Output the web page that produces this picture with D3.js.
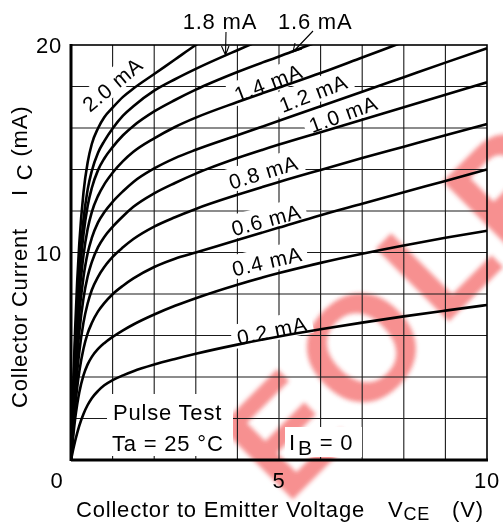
<!DOCTYPE html>
<html><head><meta charset="utf-8">
<script src="https://cdn.jsdelivr.net/npm/d3@7"></script>
<style>html,body{margin:0;padding:0;background:#fff;}svg{display:block;}</style>
</head><body>
<svg id="c" width="503" height="522"></svg>
<script>
// ---- data ----
const vce  = [0,0.05,0.1,0.15,0.2,0.3,0.4,0.5,0.65,0.8,1,1.25,1.5,2,2.5,3,4,5,6,7,8,9,10];
const ib02 = [0,0.48,0.92,1.31,1.66,2.22,2.65,2.98,3.33,3.60,3.85,4.08,4.28,4.60,4.87,5.12,5.56,5.95,6.30,6.62,6.92,7.20,7.47];
const ib04 = [0,1.08,1.99,2.70,3.27,4.08,4.61,4.97,5.35,5.63,5.93,6.25,6.53,7.01,7.43,7.80,8.45,9.01,9.50,9.94,10.34,10.71,11.05];
const ib06 = [0,1.37,2.56,3.51,4.27,5.36,6.10,6.60,7.16,7.56,7.99,8.40,8.75,9.30,9.70,10.0,10.6,11.2,11.8,12.35,12.9,13.45,14.0];
const ib08 = [0,1.64,3.09,4.27,5.23,6.62,7.54,8.19,8.83,9.30,9.79,10.25,10.65,11.25,11.7,12.1,12.78,13.4,13.98,14.55,15.1,15.65,16.19];
const ib10 = [0,1.95,3.65,5.06,6.18,7.79,8.84,9.54,10.26,10.75,11.24,11.75,12.2,12.85,13.35,13.8,14.55,15.2,15.8,16.4,17.0,17.6,18.2];
const ib12 = [0,2.26,4.24,5.81,7.07,8.82,9.96,10.70,11.45,11.94,12.44,12.95,13.4,14.05,14.55,14.95,15.65,16.35,17.05,17.75,18.45,19.15,19.84];
const ib14 = [0,2.55,4.75,6.51,7.91,9.86,11.13,11.95,12.73,13.28,13.84,14.4,14.85,15.5,16.05,16.5,17.25,17.95,18.65,19.4,20.15,20.9,21.6];
const ib16 = [0,2.80,5.24,7.17,8.72,10.86,12.24,13.11,13.97,14.53,15.08,15.65,16.1,16.8,17.35,17.85,18.7,19.45,20.2,20.9,21.6,22.3,23.0];
const ib18 = [0,3.00,5.60,7.68,9.31,11.59,13.03,13.93,14.81,15.37,15.98,16.6,17.05,17.8,18.35,18.85,19.75,20.6,21.4,22.2,23.0,23.8,24.6];
const ib20 = [0,3.40,6.33,8.66,10.45,12.89,14.34,15.23,15.99,16.52,16.98,17.5,17.9,18.6,19.3,20.0,21.2,22.3,23.3,24.3,25.3,26.3,27.3];
const seriesNames = ["0.2 mA","0.4 mA","0.6 mA","0.8 mA","1.0 mA","1.2 mA","1.4 mA","1.6 mA","1.8 mA","2.0 mA"];
const seriesValues = [ib02,ib04,ib06,ib08,ib10,ib12,ib14,ib16,ib18,ib20];
const xTicks = [0,5,10];
const yTicks = [10,20];
const stampLetters = ["E","O","L","P"];

// ---- layout ----
const L=71,R=487,T=45,B=460;
const x = d3.scaleLinear().domain([0,10]).range([L,R]);
const y = d3.scaleLinear().domain([0,20]).range([B,T]);
const svg = d3.select("#c");
const FONT = "'Liberation Sans', Arial, Helvetica, sans-serif";
const LS = 0.8;

const defs = svg.append("defs");
defs.append("filter").attr("id","blur").append("feGaussianBlur").attr("stdDeviation",2);
defs.append("clipPath").attr("id","plot").append("rect").attr("x",L).attr("y",T).attr("width",R-L).attr("height",B-T);

// watermark stamp (letters along a 45° diagonal)
const stampPos = [[283,433],[360,346],[436,258],[506,188]];
const wm = svg.append("g").attr("opacity",0.55).attr("filter","url(#blur)");
stampLetters.forEach((ch,k)=>{
  wm.append("text").attr("transform",`translate(${stampPos[k][0]},${stampPos[k][1]}) rotate(-45)`)
    .attr("text-anchor","middle").attr("y",54)
    .attr("font-family",FONT).attr("font-weight","bold").attr("font-size",150)
    .attr("fill","#f03434").text(ch);
});

// grid
const grid = svg.append("g").attr("stroke","#1a1a1a").attr("stroke-width",1.1);
d3.range(1,10).forEach(v=>grid.append("line").attr("x1",x(v)).attr("x2",x(v)).attr("y1",T).attr("y2",B));
d3.range(2,20,2).forEach(v=>grid.append("line").attr("y1",y(v)).attr("y2",y(v)).attr("x1",L).attr("x2",R));

// curve labels with white boxes
const curveLabels = [
  {t:"2.0 mA", v:0.99, i:18.12, a:-40},
  {t:"1.4 mA", v:4.74, i:18.2, a:-21},
  {t:"1.2 mA", v:5.82, i:17.7, a:-21},
  {t:"1.0 mA", v:6.54, i:16.7, a:-20},
  {t:"0.8 mA", v:4.62, i:13.9, a:-17},
  {t:"0.6 mA", v:4.69, i:11.6, a:-15},
  {t:"0.4 mA", v:4.71, i:9.6, a:-13},
  {t:"0.2 mA", v:4.83, i:6.27, a:-12}
];
const lg = svg.append("g");
curveLabels.forEach(d=>{
  const g = lg.append("g").attr("transform",`translate(${x(d.v)},${y(d.i)}) rotate(${d.a})`);
  g.append("rect").attr("x",-41).attr("y",-13).attr("width",82).attr("height",24).attr("fill","#fff");
  g.append("text").attr("text-anchor","middle").attr("y",8)
    .attr("font-family",FONT).attr("font-size",21).attr("letter-spacing",LS).text(d.t);
});

// boxes for notes
svg.append("rect").attr("x",107).attr("y",394).attr("width",126).attr("height",62).attr("fill","#fff");
svg.append("rect").attr("x",285).attr("y",427).attr("width",77).attr("height",30).attr("fill","#fff");

// curves
const line = d3.line().x(d=>x(d[0])).y(d=>y(d[1])).curve(d3.curveMonotoneX);
svg.append("g").attr("clip-path","url(#plot)").selectAll("path").data(seriesValues).join("path")
  .attr("d",s=>line(vce.map((v,k)=>[v,s[k]])))
  .attr("fill","none").attr("stroke","#000").attr("stroke-width",2.6).attr("stroke-linejoin","round");

// frame
svg.append("rect").attr("x",L).attr("y",T).attr("width",R-L).attr("height",B-T).attr("fill","none").attr("stroke","#000").attr("stroke-width",1.6);
svg.append("line").attr("x1",L).attr("x2",R+1).attr("y1",B).attr("y2",B).attr("stroke","#000").attr("stroke-width",3);
svg.append("line").attr("x1",L).attr("x2",L).attr("y1",T-1).attr("y2",B+1).attr("stroke","#000").attr("stroke-width",3);

// ticks
const tx = svg.append("g").attr("font-family",FONT).attr("font-size",22).attr("letter-spacing",LS);
xTicks.forEach(v=>{
  tx.append("text").attr("x", v===0 ? x(v)-14 : x(v)).attr("y",488).attr("text-anchor","middle").text(v);
});
yTicks.forEach(v=>{
  tx.append("text").attr("x",62).attr("y",y(v)+8).attr("text-anchor","end").text(v);
});

// top labels with arrows
const topLabels = [{t:"1.8 mA", v:3.58}, {t:"1.6 mA", v:5.87}];
topLabels.forEach(d=>tx.append("text").attr("x",x(d.v)).attr("y",29).attr("text-anchor","middle").text(d.t));
const ar = svg.append("g").attr("stroke","#000").attr("stroke-width",1.1).attr("fill","none");
ar.append("path").attr("d","M226,32 L225.5,55 M221.5,46 L225.5,55 L229,46");
ar.append("path").attr("d","M313,31 L293,52 M295,43 L293,52 L302,49");

// notes
tx.append("text").attr("x",113).attr("y",420).text("Pulse Test");
tx.append("text").attr("x",112).attr("y",451).text("Ta = 25 °C");
const ibt = tx.append("text").attr("x",289).attr("y",450);
ibt.append("tspan").text("I");
ibt.append("tspan").attr("dy",5).attr("dx",2).attr("font-size",21).text("B");
ibt.append("tspan").attr("dy",-5).text(" = 0");

// axis titles
const xt = tx.append("text").attr("x",76).attr("y",517);
xt.append("tspan").text("Collector to Emitter Voltage");
xt.append("tspan").attr("dx",23).text("V");
xt.append("tspan").attr("dy",3).attr("font-size",18).text("CE");
xt.append("tspan").attr("dy",-3).attr("dx",22).text("(V)");

const yt = tx.append("text").attr("transform","translate(27,408) rotate(-90)");
yt.append("tspan").text("Collector Current");
yt.append("tspan").attr("dx",32).text("I");
yt.append("tspan").attr("dx",9).attr("dy",5).text("C");
yt.append("tspan").attr("dy",-5).text(" (mA)");
</script>
</body></html>
